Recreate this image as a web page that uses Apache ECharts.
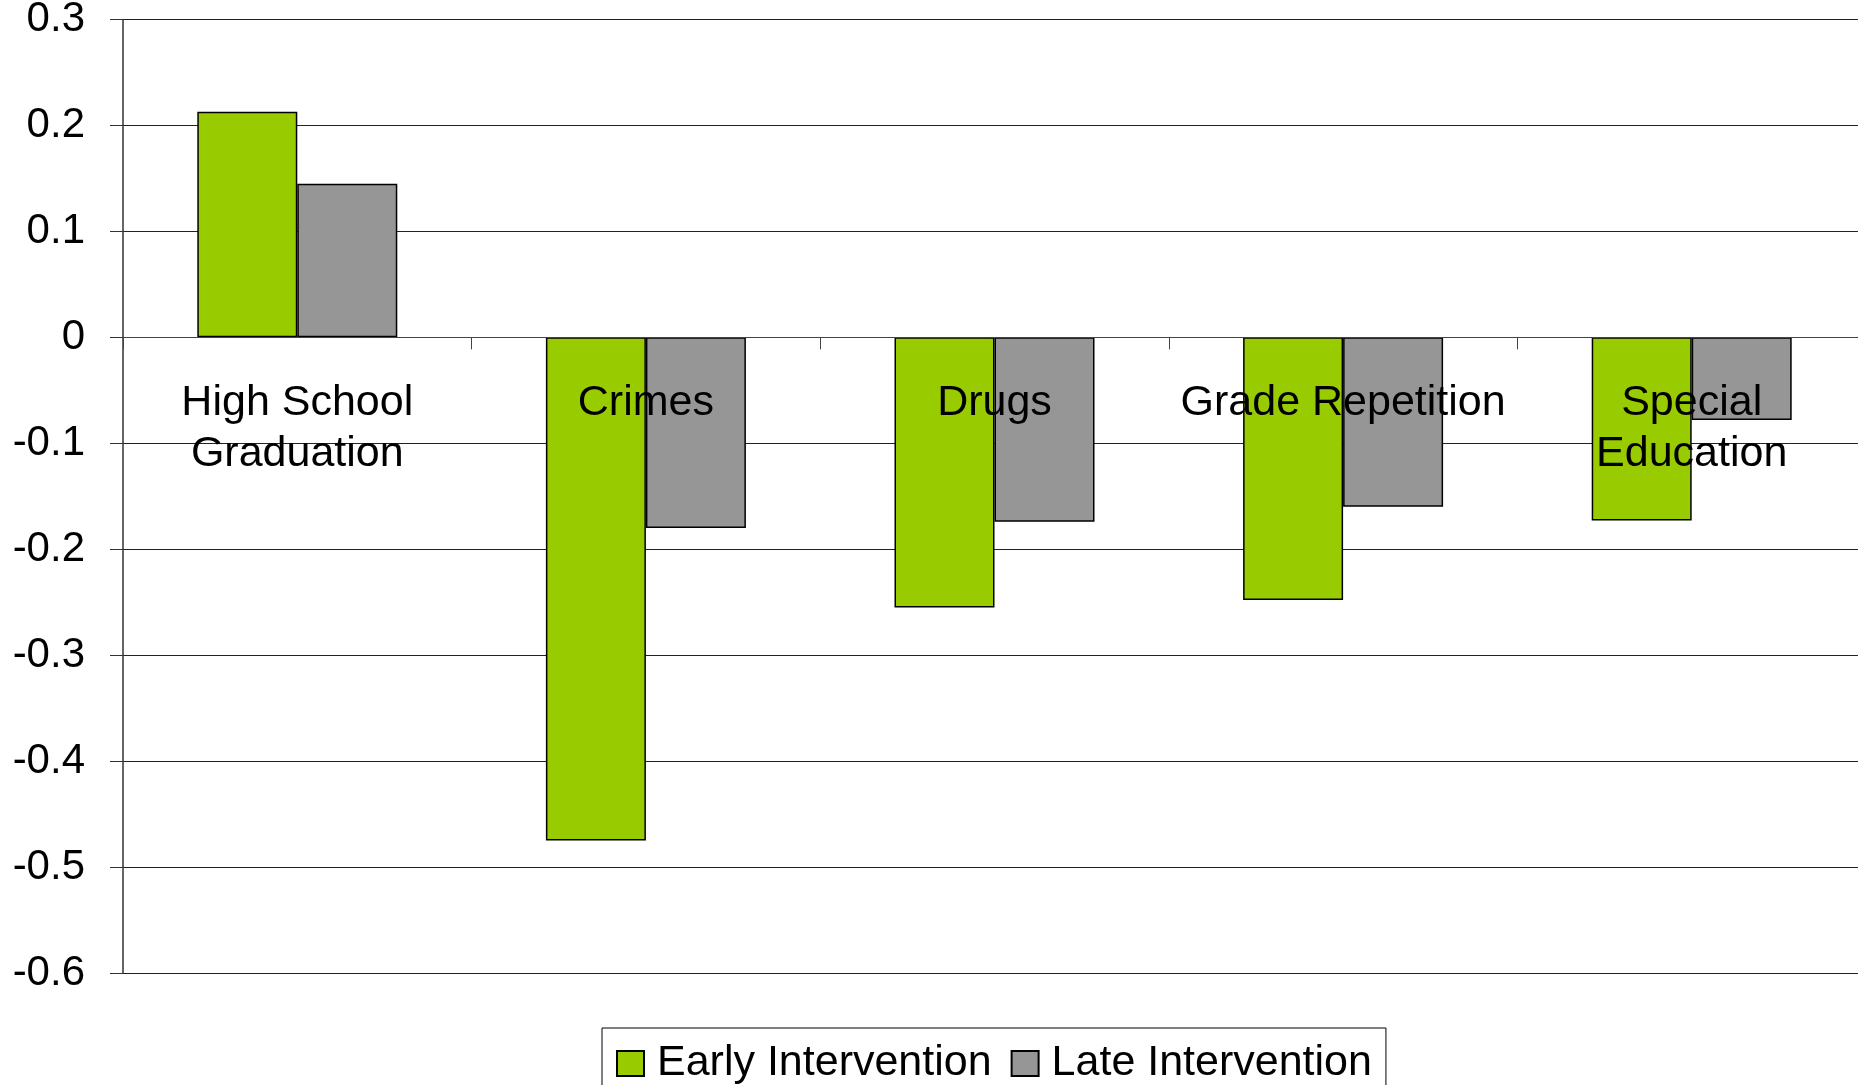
<!DOCTYPE html>
<html>
<head>
<meta charset="utf-8">
<script src="https://cdn.jsdelivr.net/npm/echarts@6/dist/echarts.min.js"></script>
<style>
html,body{margin:0;padding:0;background:#fff;}
#chart{width:1858px;height:1085px;}
</style>
</head>
<body>
<div id="chart"></div>
<script>
const categories = ['High School\nGraduation', 'Crimes', 'Drugs', 'Grade Repetition', 'Special\nEducation'];
const seriesNames = ['Early Intervention', 'Late Intervention'];
const earlyValues = [0.213, -0.475, -0.255, -0.248, -0.173];
const lateValues = [0.145, -0.180, -0.174, -0.160, -0.078];
const yMin = -0.6, yMax = 0.3, yStep = 0.1;

const FONT = 'Liberation Sans, Arial, sans-serif';
const gridTop = 19.5, gridBottom = 112, H = 1085;
const plotH = H - gridTop - gridBottom;
const zeroOffset = -plotH * (0 - yMin) / (yMax - yMin);

const chart = echarts.init(document.getElementById('chart'), null, {renderer: 'canvas'});
chart.setOption({
  backgroundColor: '#ffffff',
  animation: false,
  textStyle: {fontFamily: FONT},
  grid: {left: 123, top: gridTop, right: -8, bottom: gridBottom, containLabel: false, outerBoundsMode: 'none'},
  legend: {
    data: seriesNames,
    left: 602, top: 1028,
    padding: [14, 14, 20, 14],
    borderColor: '#000', borderWidth: 1,
    itemWidth: 27, itemHeight: 25, itemGap: 19,
    icon: 'rect',
    textStyle: {fontSize: 43, color: '#000', fontFamily: FONT, padding: [0, 0, 0, 8]}
  },
  xAxis: {
    type: 'category',
    data: categories,
    z: 10,
    offset: zeroOffset,
    axisLine: {onZero: false, lineStyle: {color: '#444', width: 1}},
    axisTick: {show: true, length: 12, lineStyle: {color: '#444'}},
    axisLabel: {interval: 0, fontSize: 43, lineHeight: 51, color: '#000', margin: 40.5, fontFamily: FONT},
    splitLine: {show: false}
  },
  yAxis: {
    type: 'value',
    min: yMin, max: yMax, interval: yStep,
    axisLine: {show: true, lineStyle: {color: '#333', width: 1.5}},
    axisTick: {show: true, length: 13, lineStyle: {color: '#333'}},
    axisLabel: {fontSize: 42, color: '#000', margin: 38, fontFamily: FONT, padding: [5, 0, 0, 0]},
    splitLine: {show: true, lineStyle: {color: '#222', width: 1}}
  },
  series: [
    {name: seriesNames[0], type: 'bar', data: earlyValues, barWidth: 100, barGap: '0%',
     itemStyle: {color: '#99CC00', borderColor: '#000', borderWidth: 1.5}},
    {name: seriesNames[1], type: 'bar', data: lateValues, barWidth: 100, barGap: '0%',
     itemStyle: {color: '#969696', borderColor: '#000', borderWidth: 1.5}}
  ]
});
</script>
</body>
</html>
